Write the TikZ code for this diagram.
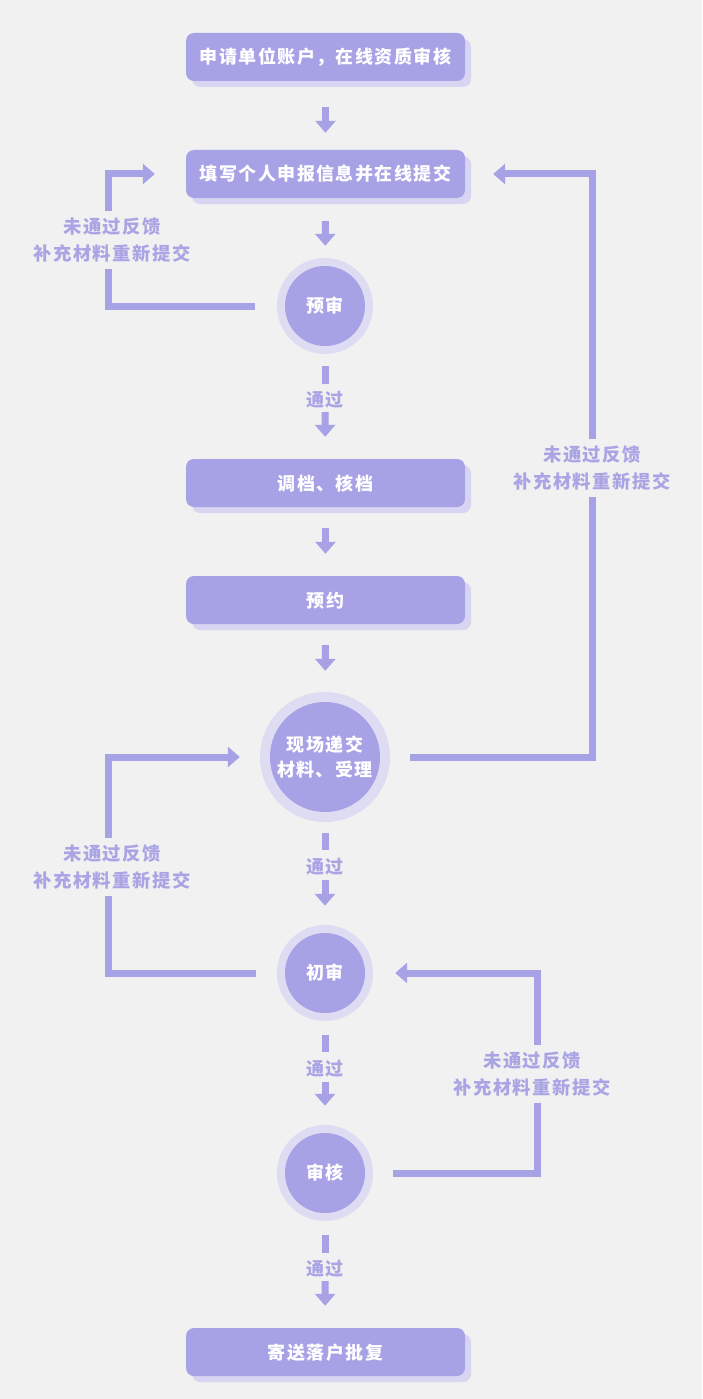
\documentclass[tikz,border=0pt]{standalone}
\usepackage{fontspec}
\newfontfamily\cjk[LetterSpace=8]{Noto Sans CJK SC}
\usetikzlibrary{arrows.meta,shadows}
\definecolor{pp}{HTML}{A7A1E6}
\definecolor{sh}{HTML}{D8D5F2}
\definecolor{ringc}{HTML}{DEDCF3}
\definecolor{lbl}{HTML}{A9A4E4}
\definecolor{bg}{HTML}{F1F1F1}
\begin{document}
\begin{tikzpicture}[x=1pt,y=-1pt,
  stepbox/.style={rectangle, rounded corners=8pt, fill=pp, text=white,
    minimum width=279pt, minimum height=48pt, inner sep=0pt,
    text height=14pt, text depth=0pt,
    font=\cjk\bfseries\fontsize{18}{22}\selectfont,
    drop shadow={shadow xshift=6pt, shadow yshift=-6pt, fill=sh, opacity=1}},
  ringnode/.style={circle, fill=ringc, minimum size=96pt, inner sep=0pt},
  corenode/.style={circle, fill=pp, minimum size=80pt, inner sep=0pt, text=white,
    font=\cjk\bfseries\fontsize{18}{25}\selectfont, align=center},
  passlbl/.style={text=lbl, inner sep=0pt, text height=14pt, text depth=0pt,
    font=\cjk\bfseries\fontsize{18}{22}\selectfont},
  fbk/.style={align=center, text=lbl, fill=bg, inner xsep=2pt, inner ysep=7pt,
    font=\cjk\bfseries\fontsize{18.3}{27}\selectfont},
  conn/.style={draw=pp, line width=7pt},
  arr/.style={conn, -{Triangle[width=20pt,length=12pt]}}
]
\useasboundingbox[fill=bg] (0,0) rectangle (702,1399);

% coordinates for loop verticals
\coordinate (xL) at (108,0);
\coordinate (xR1) at (592,0);
\coordinate (xR2) at (537,0);

% main nodes
\node[stepbox] (apply) at (325.5,57) {申请单位账户，在线资质审核};
\node[stepbox] (fill) at (325.5,174) {填写个人申报信息并在线提交};
\node[ringnode] (pre) at (325,306) {};
\node[corenode] (preC) at (pre) {预审};
\node[passlbl] (p1) at (325,399) {通过};
\node[stepbox] (arch) at (325.5,483) {调档、核档};
\node[stepbox] (book) at (325.5,600) {预约};
\node[ringnode, minimum size=130pt] (site) at (325,757) {};
\node[corenode, minimum size=110pt] (siteC) at (site) {现场递交\\材料、受理};
\node[passlbl] (p2) at (325,866) {通过};
\node[ringnode] (init) at (325,973) {};
\node[corenode] (initC) at (init) {初审};
\node[passlbl] (p3) at (325,1068) {通过};
\node[ringnode] (audit) at (325,1173) {};
\node[corenode] (auditC) at (audit) {审核};
\node[passlbl] (p4) at (325,1268) {通过};
\node[stepbox] (send) at (325.5,1352) {寄送落户批复};

% straight flow
\draw[arr, shorten <=26pt, shorten >=17pt] (apply) -- (fill);
\draw[arr, shorten <=23pt, shorten >=12pt] (fill) -- (pre);
\draw[conn, shorten <=12pt, shorten >=15pt] (pre) -- (p1.center);
\draw[arr, shorten <=13pt, shorten >=22pt] (p1.center) -- (arch);
\draw[arr, shorten <=21pt, shorten >=22pt] (arch) -- (book);
\draw[arr, shorten <=21pt, shorten >=21pt] (book) -- (site);
\draw[conn, shorten <=11pt, shorten >=16pt] (site) -- (p2.center);
\draw[arr, shorten <=14pt, shorten >=19pt] (p2.center) -- (init);
\draw[conn, shorten <=14pt, shorten >=16pt] (init) -- (p3.center);
\draw[arr, shorten <=14pt, shorten >=19pt] (p3.center) -- (audit);
\draw[conn, shorten <=14pt, shorten >=15pt] (audit) -- (p4.center);
\draw[arr, shorten <=13pt, shorten >=22pt] (p4.center) -- (send);

% feedback loops
\draw[arr, shorten <=22pt, shorten >=31pt] (pre.west) -- (pre.west -| xL) -- (fill.west -| xL) -- (fill.west);
\draw[arr, shorten <=20pt, shorten >=28pt] (site.east) -- (site.east -| xR1) -- (fill.east -| xR1) -- (fill.east);
\draw[arr, shorten <=21pt, shorten >=20pt] (init.west) -- (init.west -| xL) -- (site.west -| xL) -- (site.west);
\draw[arr, shorten <=20pt, shorten >=22pt] (audit.east) -- (audit.east -| xR2) -- (init.east -| xR2) -- (init.east);

% feedback labels
\node[fbk] (lb1) at (112,240) {未通过反馈\\补充材料重新提交};
\node[fbk] (lb2) at (592,468) {未通过反馈\\补充材料重新提交};
\node[fbk] (lb3) at (112,867) {未通过反馈\\补充材料重新提交};
\node[fbk] (lb4) at (532,1074) {未通过反馈\\补充材料重新提交};
\end{tikzpicture}
\end{document}
